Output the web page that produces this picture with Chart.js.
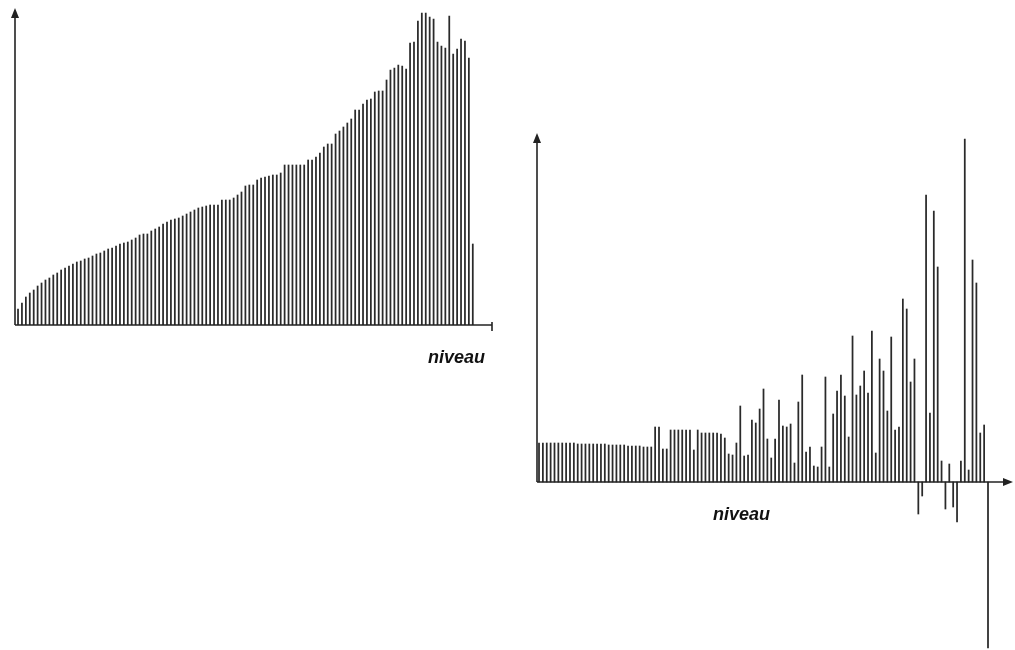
<!DOCTYPE html>
<html lang="fr">
<head>
    <meta charset="UTF-8">
    <title>niveau</title>
    <script src="https://cdn.jsdelivr.net/npm/chart.js"></script>
    <style>
        body { margin: 0; background: #fff; }
        #page { position: relative; width: 1015px; height: 650px; overflow: hidden; }
        canvas { position: absolute; left: 0; top: 0; }
        .label {
            position: absolute;
            font-family: "Liberation Sans", Arial, sans-serif;
            font-weight: bold;
            font-style: italic;
            font-size: 18px;
            line-height: 18px;
            color: #111;
        }
    </style>
</head>
<body>
<div id="page">
    <canvas id="leftChart" width="1015" height="650"></canvas>
    <canvas id="rightChart" width="1015" height="650"></canvas>
    <div class="label" style="left:428px; top:348px;">niveau</div>
    <div class="label" style="left:713px; top:505px;">niveau</div>
</div>

<script>
    // niveaux (117 classes)
    const niveaux = Array.from({ length: 117 }, (_, i) => i);

    // histogramme de gauche
    const effectifs = [
        16, 22, 28, 32, 35, 39, 42, 45, 47, 50, 52, 55, 57, 59, 61, 63, 64, 66, 67, 69,
        71, 72, 74, 76, 77, 79, 81, 82, 83, 85, 87, 90, 91, 91, 94, 96, 98, 101, 103,
        105, 106, 107, 109, 111, 113, 115, 117, 118, 119, 120, 120, 120, 125, 125,
        125, 127, 130, 133, 139, 140, 140, 145, 147, 148, 149, 150, 150, 152, 160,
        160, 160, 160, 160, 160, 165, 165, 168,
        172, 178, 181, 181, 191, 194, 198, 202, 206, 215, 215, 221, 225, 226, 233,
        234, 234, 245, 255, 257, 260, 259, 256, 282, 283, 304, 312, 312, 308, 306,
        283, 279, 277, 309, 271, 276, 286, 284, 267, 81
    ];

    // histogramme de droite (écarts, valeurs négatives sous l'axe)
    const ecarts = [
        39, 39, 39, 39, 39, 39, 39, 39, 39, 39, 38, 38, 38, 38, 38, 38, 38, 38, 37, 37,
        37, 37, 37, 36, 36, 36, 36, 35, 35, 35,
        55, 55, 33, 33, 52, 52, 52, 52, 52, 52, 32, 52, 49, 49, 49, 49, 49, 48, 44, 28,
        27, 39, 76, 26, 27, 62, 59, 73, 93, 43, 24, 43, 82, 56, 55, 58, 19, 80, 107, 30,
        35, 16, 15, 35, 105, 15, 68, 91, 107, 86, 45, 146, 87, 96, 111, 89, 151, 29, 123, 111,
        71, 145, 52, 55, 183, 173, 100, 123, -32, -14, 287, 69, 271, 215, 21, -27, 18, -25, -40, 21,
        343, 12, 222, 199, 49, 57, -166
    ];

    // axes dessinés à la main : flèches et trait de fin
    const axesPlugin = {
        id: 'axesFleches',
        afterDatasetsDraw(chart, args, opts) {
            const ctx = chart.ctx;
            const a = chart.chartArea;
            const y0 = chart.scales.y.getPixelForValue(0);
            ctx.save();
            ctx.strokeStyle = '#222';
            ctx.fillStyle = '#222';
            ctx.lineWidth = 1.6;
            // axe vertical
            ctx.beginPath();
            ctx.moveTo(a.left, y0);
            ctx.lineTo(a.left, a.top + 6);
            ctx.stroke();
            ctx.beginPath();
            ctx.moveTo(a.left, a.top - 2);
            ctx.lineTo(a.left - 4, a.top + 8);
            ctx.lineTo(a.left + 4, a.top + 8);
            ctx.closePath();
            ctx.fill();
            // axe horizontal
            ctx.beginPath();
            ctx.moveTo(a.left, y0);
            ctx.lineTo(opts.arrowX ? a.right - 6 : a.right, y0);
            ctx.stroke();
            if (opts.arrowX) {
                ctx.beginPath();
                ctx.moveTo(a.right + 1, y0);
                ctx.lineTo(a.right - 9, y0 - 4);
                ctx.lineTo(a.right - 9, y0 + 4);
                ctx.closePath();
                ctx.fill();
            } else {
                ctx.beginPath();
                ctx.moveTo(a.right, y0 - 3);
                ctx.lineTo(a.right, y0 + 6);
                ctx.stroke();
            }
            ctx.restore();
        }
    };

    function histo(id, values, xmin, xmax, ymin, ymax, padding, arrowX) {
        return new Chart(document.getElementById(id), {
            type: 'bar',
            data: {
                datasets: [{
                    data: niveaux.map((n, i) => ({ x: n, y: values[i] })),
                    backgroundColor: '#2a2a2a',
                    borderWidth: 0,
                    barThickness: 1.1
                }]
            },
            options: {
                responsive: false,
                animation: false,
                layout: { padding: padding },
                plugins: {
                    legend: { display: false },
                    tooltip: { enabled: false },
                    axesFleches: { arrowX: arrowX }
                },
                scales: {
                    x: { type: 'linear', min: xmin, max: xmax, offset: false, display: false },
                    y: { min: ymin, max: ymax, display: false }
                }
            },
            plugins: [axesPlugin]
        });
    }

    histo('leftChart', effectifs, -0.77, 120.9, 0, 315,
        { left: 15, top: 10, right: 523, bottom: 325 }, false);
    histo('rightChart', ecarts, -0.52, 122.2, -168, 347,
        { left: 537, top: 135, right: 3, bottom: 0 }, true);
</script>
</body>
</html>
